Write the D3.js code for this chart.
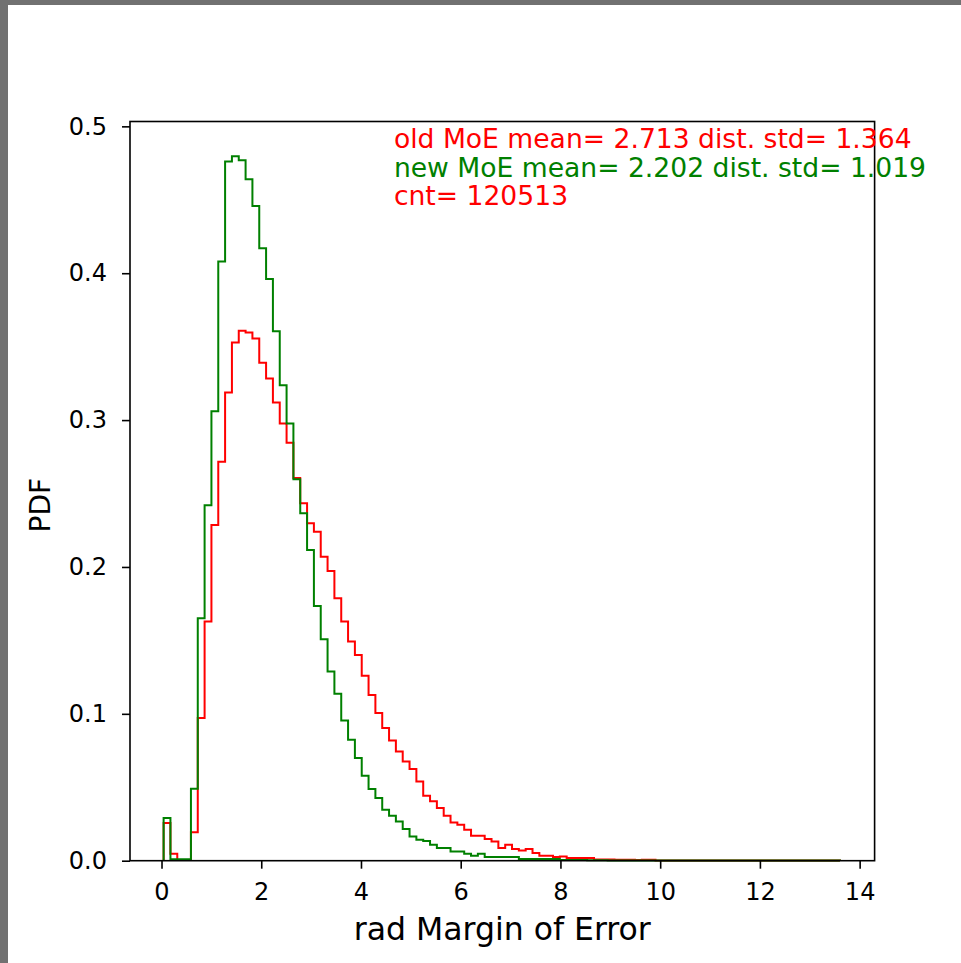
<!DOCTYPE html>
<html>
<head>
<meta charset="utf-8">
<script src="https://cdn.jsdelivr.net/npm/d3@7"></script>
<style>
  body { margin: 0; background: #fff; }
  svg { display: block; }
  text { font-family: "DejaVu Sans", sans-serif; }
</style>
</head>
<body>
<div id="chart"></div>
<script>
// histogram bins (rad Margin of Error)
const binStart = 0.042,
    binWidth = 0.137;

// PDF per bin, old MoE (red)
const oldMoE = [
    0.0256, 0.0048, 0.0005, 0.0005, 0.0193, 0.0971, 0.1628, 0.2286, 0.2716, 0.3188,
    0.3529, 0.3608, 0.3596, 0.3556, 0.3390, 0.3284, 0.3120, 0.2977, 0.2846, 0.2606,
    0.2433, 0.2297, 0.2240, 0.2070, 0.1973, 0.1787, 0.1628, 0.1492, 0.1401, 0.1259,
    0.1129, 0.1005, 0.0903, 0.0818, 0.0744, 0.0676, 0.0624, 0.0540, 0.0442, 0.0404,
    0.0358, 0.0306, 0.0260, 0.0245, 0.0211, 0.0170, 0.0170, 0.0148, 0.0131, 0.0086,
    0.0109, 0.0080, 0.0070, 0.0080, 0.0052, 0.0034, 0.0034, 0.0025, 0.0029, 0.0018,
    0.0018, 0.0018, 0.0018, 0.0008, 0.0008, 0.0008, 0.0007, 0.0007, 0.0007, 0.0004,
    0.0007, 0.0006, 0.0002, 0.0002, 0.0002, 0.0002, 0.0002, 0.0002, 0.0002, 0.0002,
    0.0002, 0.0002, 0.0002, 0.0002, 0.0002, 0.0002, 0.0002, 0.0002, 0.0002, 0.0002,
    0.0002, 0.0002, 0.0002, 0.0002, 0.0002, 0.0002, 0.0002, 0.0002, 0.0002
];

// PDF per bin, new MoE (green)
const newMoE = [
    0.0290, 0.0010, 0.0010, 0.0010, 0.0490, 0.1650, 0.2420, 0.3060, 0.4080, 0.4760,
    0.4796, 0.4769, 0.4640, 0.4458, 0.4170, 0.3960, 0.3605, 0.3238, 0.2977, 0.2597,
    0.2365, 0.2116, 0.1735, 0.1508, 0.1288, 0.1136, 0.0954, 0.0823, 0.0699, 0.0578,
    0.0488, 0.0427, 0.0347, 0.0306, 0.0267, 0.0215, 0.0165, 0.0143, 0.0134, 0.0109,
    0.0086, 0.0086, 0.0063, 0.0063, 0.0048, 0.0034, 0.0048, 0.0025, 0.0025, 0.0025,
    0.0025, 0.0025, 0.0012, 0.0012, 0.0012, 0.0012, 0.0012, 0.0012, 0.0005, 0.0005,
    0.0004, 0.0004, 0.0003, 0.0003, 0.0003, 0.0002, 0.0002, 0.0002, 0.0002, 0.0002,
    0.0002, 0.0002, 0.0002, 0.0002, 0.0002, 0.0002, 0.0002, 0.0002, 0.0002, 0.0002,
    0.0002, 0.0002, 0.0002, 0.0002, 0.0002, 0.0002, 0.0002, 0.0002, 0.0002, 0.0002,
    0.0002, 0.0002, 0.0002, 0.0002, 0.0002, 0.0002, 0.0002, 0.0002, 0.0002
];

const xTicks = [0, 2, 4, 6, 8, 10, 12, 14];
const yTicks = [0.0, 0.1, 0.2, 0.3, 0.4, 0.5];

const statLines = [
    "old MoE mean= 2.713 dist. std= 1.364",
    "new MoE mean= 2.202 dist. std= 1.019",
    "cnt= 120513"
];
const statColors = ["#ff0000", "#008000", "#ff0000"];

function histChart() {
    let width = 961,
        height = 963,
        left = 130, right = 874.6,
        top = 121.5, bottom = 860.7;

    const svg = d3.select("#chart").append("svg")
        .attr("width", width)
        .attr("height", height);

    // grey frame of the screenshot
    svg.append("rect").attr("x", 0).attr("y", 0).attr("width", 8).attr("height", height).attr("fill", "#717171");
    svg.append("rect").attr("x", 0).attr("y", 0).attr("width", width).attr("height", 5).attr("fill", "#717171");

    const x = d3.scaleLinear().domain([-0.632, 14.30]).range([left, right]);
    const y = d3.scaleLinear().domain([0, 0.5033]).range([bottom, top]);

    function stepPoints(values) {
        let pts = [[binStart, 0]];
        values.forEach((v, i) => pts.push([binStart + i * binWidth, v]));
        pts.push([binStart + values.length * binWidth, 0]);
        return pts;
    }

    const line = d3.line()
        .x(d => x(d[0]))
        .y(d => y(d[1]))
        .curve(d3.curveStepAfter);

    svg.append("path")
        .attr("d", line(stepPoints(oldMoE)))
        .attr("fill", "none")
        .attr("stroke", "#ff0000")
        .attr("stroke-width", 2);

    svg.append("path")
        .attr("d", line(stepPoints(newMoE)))
        .attr("fill", "none")
        .attr("stroke", "#008000")
        .attr("stroke-width", 2);

    const xAxis = svg.append("g")
        .attr("transform", `translate(0,${bottom})`)
        .call(d3.axisBottom(x).tickValues(xTicks).tickSize(8).tickPadding(14).tickFormat(d3.format("d")));
    const yAxis = svg.append("g")
        .attr("transform", `translate(${left},0)`)
        .call(d3.axisLeft(y).tickValues(yTicks).tickSize(8).tickPadding(15).tickFormat(d3.format(".1f")));

    [xAxis, yAxis].forEach(g => {
        g.select(".domain").remove();
        g.selectAll("line").attr("stroke", "#000").attr("stroke-width", 1.6);
        g.selectAll("text")
            .attr("fill", "#000")
            .style("font-family", "DejaVu Sans")
            .style("font-size", "24px");
    });

    // spines
    svg.append("rect")
        .attr("x", left).attr("y", top)
        .attr("width", right - left).attr("height", bottom - top)
        .attr("fill", "none")
        .attr("stroke", "#000")
        .attr("stroke-width", 1.6);

    svg.append("text")
        .attr("x", (left + right) / 2)
        .attr("y", 940)
        .attr("text-anchor", "middle")
        .style("font-size", "31.5px")
        .text("rad Margin of Error");

    svg.append("text")
        .attr("transform", `translate(50,${(top + bottom) / 2 + 14}) rotate(-90)`)
        .attr("text-anchor", "middle")
        .style("font-size", "28px")
        .text("PDF");

    svg.selectAll(".stat")
        .data(statLines)
        .enter()
        .append("text")
        .attr("class", "stat")
        .attr("x", x(4.66))
        .attr("y", (d, i) => y(0.485) + i * 28.5)
        .attr("fill", (d, i) => statColors[i])
        .style("font-size", "26.6px")
        .text(d => d);

    return svg.node();
}

histChart();
</script>
</body>
</html>
